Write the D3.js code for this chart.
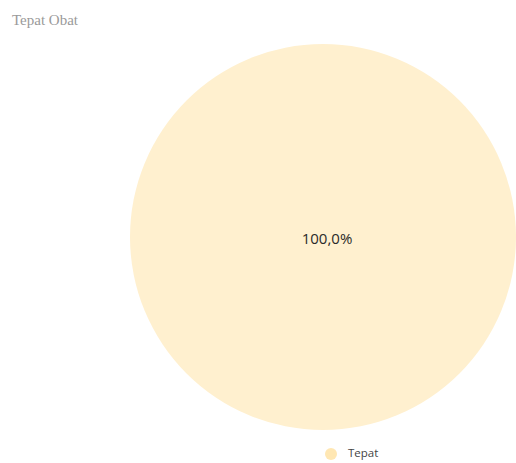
<!DOCTYPE html>
<html>
<head>
<meta charset="utf-8">
<script src="https://cdn.jsdelivr.net/npm/d3@7"></script>
<style>
  html, body { margin: 0; padding: 0; background: #fff; }
  svg { display: block; }
</style>
</head>
<body>
<svg id="chart" width="516" height="463"></svg>
<script>
// Share of prescriptions judged "Tepat" (correct)
const categories = ["Tepat"];
const values = [100];
const colors = ["#FFF0CF"];
const legendColors = ["#FFE7B3"];
const title = "Tepat Obat";

const svg = d3.select("#chart");
const cx = 323, cy = 237, radius = 193;

svg.append("text")
  .attr("x", 12).attr("y", 25)
  .attr("font-family", "'Liberation Serif', 'DejaVu Serif', serif")
  .attr("font-size", 15)
  .attr("fill", "#9a9a9a")
  .text(title);

const pie = d3.pie().sort(null).value(d => d.value);
const data = categories.map((c, i) => ({ name: c, value: values[i] }));
const arcs = pie(data);
const arc = d3.arc().innerRadius(0).outerRadius(radius);
const total = d3.sum(values);
const fmt = v => d3.format(".1f")(v).replace(".", ",") + "%";
const isFull = d => (d.endAngle - d.startAngle) >= 2 * Math.PI - 1e-6;

const g = svg.append("g").attr("transform", `translate(${cx},${cy})`);
g.selectAll("path.slice")
  .data(arcs)
  .join("path")
  .attr("class", "slice")
  .attr("d", arc)
  .attr("fill", (d, i) => colors[i]);

g.selectAll("text.val")
  .data(arcs)
  .join("text")
  .attr("class", "val")
  .attr("x", d => isFull(d) ? 4 : arc.centroid(d)[0])
  .attr("y", d => isFull(d) ? 3 : arc.centroid(d)[1])
  .attr("text-anchor", "middle")
  .attr("dominant-baseline", "middle")
  .attr("font-family", "'Open Sans', 'Noto Sans', sans-serif")
  .attr("font-size", 15)
  .attr("fill", "#2a2a2a")
  .text(d => fmt(d.data.value / total * 100));

// Legend
const legend = svg.append("g").attr("transform", "translate(331,454)");
const item = legend.selectAll("g.item")
  .data(categories)
  .join("g")
  .attr("class", "item");
item.append("circle")
  .attr("r", 6)
  .attr("fill", (d, i) => legendColors[i]);
item.append("text")
  .attr("x", 17).attr("y", 0)
  .attr("dominant-baseline", "middle")
  .attr("font-family", "'Open Sans', 'Noto Sans', sans-serif")
  .attr("font-size", 11.5)
  .attr("fill", "#444")
  .text(d => d);
</script>
</body>
</html>
